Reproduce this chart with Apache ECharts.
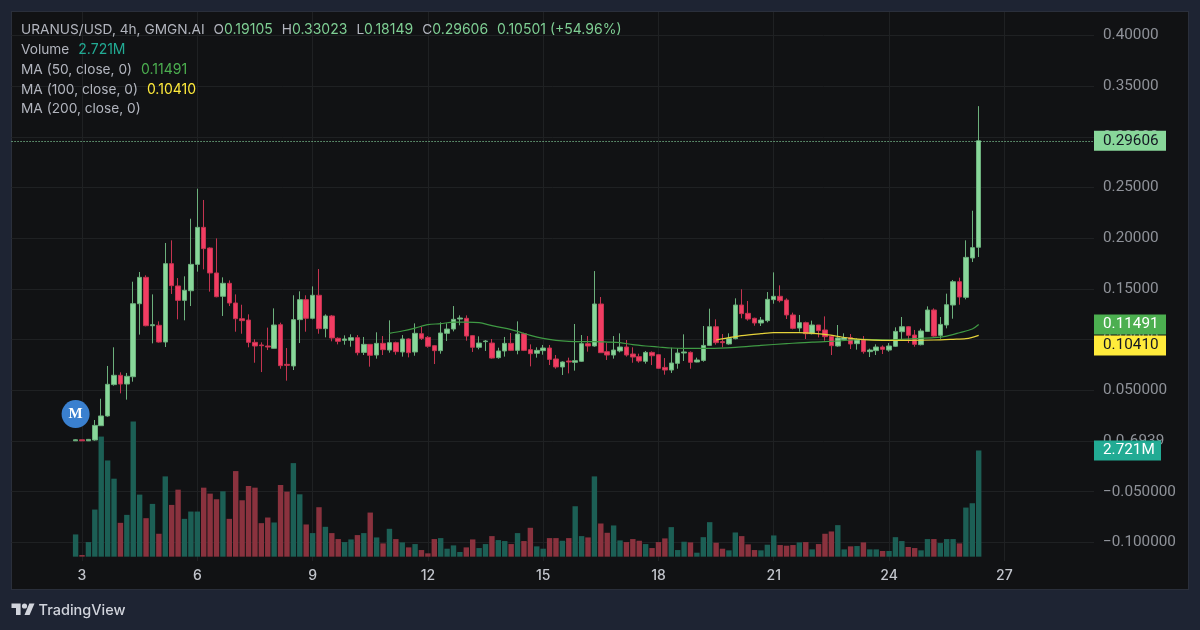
<!DOCTYPE html>
<html>
<head>
<meta charset="utf-8">
<title>URANUS/USD</title>
<script src="https://cdn.jsdelivr.net/npm/echarts@6/dist/echarts.min.js"></script>
<style>
html, body { margin: 0; padding: 0; width: 1200px; height: 630px; overflow: hidden; background: #1e2433; }
#panel { position: absolute; left: 11px; top: 11px; width: 1176px; height: 577px; background: #111214; border: 1px solid #2a2f3b; }
#container { position: absolute; left: 0; top: 0; width: 1200px; height: 630px; }
</style>
</head>
<body>
<div id="panel"></div>
<div id="container"></div>
<script>
// 4h candles
var candleOpen = [
  .0002,.0012,.0002,.0010,.0151,.0247,.0556,.0648,.0562,.0634,.1354,.1614,.1137,.1141,.0976,.1749,.1529,.1387,.1482,.1742,
  .2107,.1903,.1657,.1427,.1555,.1361,.1206,.1193,.0973,.0947,.0937,.0914,.1147,.0756,.0740,.1197,.1394,.1210,.1437,.1108,
  .1233,.1013,.0993,.0993,.1019,.0874,.0953,.0848,.0963,.0897,.0970,.0878,.1006,.0878,.1058,.1022,.0940,.0891,.1062,.1104,
  .1203,.1210,.1039,.0924,.0980,.0966,.0822,.0888,.0963,.0894,.1058,.0901,.0865,.0891,.0917,.0809,.0730,.0789,.0776,.0786,
  .0960,.0937,.1351,.0881,.0848,.0888,.0927,.0858,.0832,.0786,.0874,.0851,.0726,.0700,.0766,.0868,.0874,.0779,.0795,.0943,
  .1127,.0980,.0957,.1009,.1341,.1259,.1210,.1164,.1187,.1394,.1427,.1390,.1243,.1114,.1167,.1058,.1144,.1095,.1032,.0937,
  .0999,.1019,.0960,.0996,.0881,.0891,.0927,.0897,.0934,.1078,.1127,.1045,.0950,.1081,.1292,.1042,.1144,.1341,.1571,.1417,
  .1805,.19105
];
var candleClose = [
  .0012,.0002,.0016,.0154,.0247,.0559,.0648,.0562,.0638,.1354,.1614,.1137,.1147,.0976,.1749,.1532,.1387,.1486,.1742,.2107,
  .1897,.1657,.1423,.1555,.1361,.1206,.1187,.0973,.0937,.0940,.0927,.1144,.0743,.0746,.1197,.1394,.1210,.1437,.1108,.1233,
  .1016,.0983,.1006,.1019,.0871,.0953,.0845,.0963,.0901,.0970,.0881,.1006,.0871,.1062,.1012,.0934,.0891,.1065,.1104,.1200,
  .1213,.1035,.0924,.0966,.0986,.0818,.0888,.0963,.0894,.1055,.0894,.0861,.0894,.0917,.0805,.0730,.0779,.0779,.0792,.0960,
  .0937,.1351,.0871,.0848,.0897,.0927,.0848,.0828,.0789,.0874,.0841,.0717,.0700,.0769,.0868,.0878,.0776,.0799,.0943,.1127,
  .0970,.0970,.1012,.1341,.1256,.1203,.1164,.1193,.1397,.1427,.1384,.1243,.1111,.1167,.1058,.1144,.1088,.1029,.0940,.1016,
  .1019,.0957,.0999,.0881,.0897,.0927,.0904,.0937,.1081,.1127,.1042,.0953,.1085,.1292,.1035,.1150,.1344,.1571,.1420,.1811,
  .1907,.29606
];
var candleLow = [
  .0002,.0002,.0002,.0003,.0148,.0240,.0546,.0470,.0408,.0585,.1049,.1131,.0963,.0970,.0927,.1450,.1200,.1190,.1331,.1670,
  .1693,.1473,.1417,.1233,.1331,.1078,.1058,.0924,.0772,.0680,.0897,.0911,.0713,.0595,.0700,.0966,.1078,.1200,.1058,.1022,
  .0983,.0953,.0950,.0930,.0845,.0848,.0733,.0812,.0848,.0871,.0851,.0832,.0825,.0841,.0996,.0920,.0759,.0861,.0986,.1081,
  .1141,.0989,.0878,.0904,.0888,.0812,.0812,.0832,.0887,.0855,.0887,.0736,.0822,.0851,.0749,.0713,.0651,.0667,.0694,.0779,
  .0881,.0930,.0871,.0799,.0812,.0874,.0832,.0772,.0772,.0763,.0749,.0710,.0654,.0671,.0713,.0789,.0713,.0776,.0782,.0940,
  .0950,.0924,.0950,.1003,.1210,.1187,.1137,.1134,.1170,.1354,.1367,.1203,.1101,.1078,.1006,.1052,.1022,.0989,.0848,.0930,
  .0989,.0907,.0901,.0861,.0828,.0848,.0858,.0881,.0927,.0993,.0966,.0930,.0943,.1075,.1029,.1009,.1111,.1206,.1344,.1397,
  .1765,.18149
];
var candleHigh = [
  .0018,.0012,.0020,.0207,.0417,.0740,.0924,.0677,.0671,.1571,.1667,.1634,.1446,.1180,.1953,.1979,.1607,.1624,.2192,.2488,
  .2377,.1910,.1998,.1614,.1584,.1446,.1344,.1249,.1003,.0973,.1118,.1308,.1167,.0917,.1437,.1476,.1437,.1525,.1696,.1249,
  .1243,.1022,.1042,.1052,.1045,.1026,.0953,.1072,.1035,.1190,.0980,.1045,.1012,.1160,.1127,.1035,.0947,.1170,.1160,.1331,
  .1239,.1239,.1045,.1032,.0996,.1006,.0920,.1026,.1065,.1180,.1068,.0953,.0924,.0947,.0947,.0848,.0786,.0822,.1154,.1045,
  .1035,.1676,.1420,.0966,.1035,.1062,.0996,.0924,.0861,.0888,.0884,.0858,.0818,.0920,.0914,.1052,.0884,.0822,.1134,.1305,
  .1200,.1055,.1062,.1407,.1496,.1381,.1216,.1223,.1469,.1663,.1535,.1407,.1266,.1243,.1177,.1187,.1144,.1229,.1045,.1144,
  .1062,.1055,.1012,.1035,.0911,.0953,.0943,.0966,.1121,.1223,.1134,.1095,.1108,.1328,.1308,.1223,.1453,.1588,.1611,.1979,
  .2271,.33023
];
// volume in millions
var volumeValues = [
  .570,.043,.374,1.207,3.077,2.465,1.998,.867,1.071,3.46,1.59,.986,1.352,.587,2.057,1.326,1.717,.969,1.156,1.156,
  1.768,1.615,1.471,1.675,.969,2.193,1.445,1.811,1.768,.859,1.003,.876,1.836,1.666,2.397,1.598,.825,.604,1.267,.765,
  .604,.451,.374,.442,.553,.604,1.13,.493,.34,.714,.451,.366,.238,.323,.17,.085,.451,.476,.204,.289,
  .119,.238,.442,.221,.323,.527,.425,.40,.323,.604,.40,.74,.264,.204,.476,.476,.408,.476,1.292,.527,
  .493,2.057,.85,.612,.80,.417,.374,.451,.408,.323,.221,.374,.468,.757,.17,.383,.366,.102,.50,.884,
  .357,.204,.162,.62,.527,.315,.17,.162,.306,.544,.298,.281,.298,.366,.374,.187,.323,.587,.646,.808,
  .187,.264,.272,.366,.187,.187,.145,.145,.50,.40,.247,.221,.162,.451,.451,.349,.451,.451,.34,1.258,
  1.369,2.721
];
var ma50Index = [49,51,53,55,57,59,61,63,65,67,69,71,73,75,77,79,81,83,85,87,89,91,93,95,99,103,107,111,115,119,123,127,131,134,136,138,140,141];
var ma50Values = [.1062,.1085,.1114,.1147,.1157,.1173,.1173,.1167,.1137,.1114,.1081,.1042,.1012,.0993,.0983,.0980,.0980,.0976,.0970,.0950,.0937,.0927,.0917,.0914,.0914,.0924,.0943,.0960,.0976,.0986,.1003,.0996,.1009,.1019,.1035,.1068,.1105,.11491];
var ma100Index = [100,102,104,107,109,113,117,119,121,123,126,130,134,137,139,140,141];
var ma100Values = [.0996,.1019,.1039,.1058,.1068,.1068,.1052,.1032,.1012,.0999,.0993,.0993,.0996,.1003,.1009,.1022,.10410];

var dayTicks = [3,6,9,12,15,18,21,24,27];
var priceTicks = [-0.1,-0.05,0,0.05,0.1,0.15,0.2,0.25,0.3,0.35,0.4];
var priceTickLabels = ['\u22120.100000','\u22120.050000','0.0\u20856939','0.050000','0.10000','0.15000','0.20000','0.25000','0.30000','0.35000','0.40000'];

var UP = '#88d79a', DOWN = '#f23d63';
var UP_WICK = '#6cb07c', DOWN_WICK = '#c43450';
var VOL_UP = '#1c5f55', VOL_DOWN = '#8a323e';
var GRAY = '#b2b5be', GREEN_TXT = '#7fcf94';
var FONT = 'Inter', PRICE_FONT = 'Roboto'; // the price scale has even-width digits
var PRICE_SIZE = 15.3;
var HIDDEN_LINE = { color: 'rgba(0,0,0,0)', width: 0 };

var PAD = 10, SLOTS = 170; // empty slots left of the first candle, slots in the whole pane

var categories = [];
for (var i = 0; i < SLOTS; i++) categories.push('');
dayTicks.forEach(function (d, k) { categories[11 + 18 * k] = String(d); });
function isDayTick(idx) { return categories[idx] !== ''; }

var candleData = [], volumeData = [];
for (var p = 0; p < PAD; p++) { candleData.push(['-','-','-','-']); volumeData.push('-'); }
candleOpen.forEach(function (o, k) {
  var up = candleClose[k] >= o;
  candleData.push([o, candleClose[k], candleLow[k], candleHigh[k]]);
  volumeData.push({ value: volumeValues[k], itemStyle: { color: up ? VOL_UP : VOL_DOWN } });
});

function pairs(idx, vals) { return idx.map(function (n, k) { return [n + PAD, vals[k]]; }); }

var sideLabel = function (text, bg, color, width, offset) {
  return {
    show: true, position: 'end', distance: 0, formatter: text, opacity: 1,
    backgroundColor: bg, color: color, fontFamily: PRICE_FONT, fontSize: PRICE_SIZE,
    width: width, height: 12, lineHeight: 12, padding: [4, 0, 4, 9], align: 'left',
    offset: [0, offset || 0]
  };
};

var headerRich = {
  k: { color: GRAY, fontFamily: FONT, fontSize: 13.7 },
  v: { color: GREEN_TXT, fontFamily: FONT, fontSize: 14 },
  t: { color: '#22ab94', fontFamily: FONT, fontSize: 14 },
  g: { color: '#4caf50', fontFamily: FONT, fontSize: 14 },
  y: { color: '#ffeb3b', fontFamily: FONT, fontSize: 14 },
  s: { width: 9, fontSize: 14 }
};
var headerLines = [
  '{k|URANUS/USD, 4h, GMGN.AI}{s| }{k|O}{v|0.19105}{s| }{k|H}{v|0.33023}{s| }{k|L}{v|0.18149}{s| }{k|C}{v|0.29606}{s| }{v|0.10501 (+54.96%)}',
  '{k|Volume}{s| }{t|2.721M}',
  '{k|MA (50, close, 0)}{s| }{g|0.11491}',
  '{k|MA (100, close, 0)}{s| }{y|0.10410}',
  '{k|MA (200, close, 0)}'
];
var headerTops = [23, 43, 63, 83, 102];

var myChart = echarts.init(document.getElementById('container'), null, { renderer: 'canvas' });

var option = {
  animation: false,
  backgroundColor: 'transparent',
  title: headerLines.map(function (line, k) {
    return { text: line, left: 21, top: headerTops[k], padding: 0, textStyle: { rich: headerRich, fontSize: 14, fontWeight: 'normal' } };
  }),
  grid: { left: 11.55, top: 12, width: 1082.45, height: 549, containLabel: false },
  xAxis: {
    type: 'category', data: categories, boundaryGap: false,
    axisLine: { show: false }, axisTick: { show: false },
    axisLabel: {
      interval: function (idx) { return isDayTick(idx); },
      color: '#c2c5cc', fontFamily: FONT, fontSize: 14, fontWeight: 500, margin: 8
    },
    splitLine: { show: true, interval: function (idx) { return isDayTick(idx); }, lineStyle: { color: '#1f2123', width: 1 } }
  },
  yAxis: [
    {
      type: 'value', position: 'right', min: -0.11834, max: 0.42308,
      axisLine: { show: false },
      axisTick: { show: false, customValues: priceTicks },
      axisLabel: {
        customValues: priceTicks, margin: 9, color: '#8f9299', fontFamily: PRICE_FONT, fontSize: PRICE_SIZE,
        formatter: function (v) { return priceTickLabels[priceTicks.indexOf(v)]; }
      },
      splitLine: { show: true, lineStyle: { color: '#1f2123', width: 1 } }
    },
    { type: 'value', show: false, min: -0.111, max: 13.955, splitLine: { show: false } }
  ],
  graphic: [
    { type: 'polygon', shape: { points: [[11.5,603.5],[20.6,603.5],[20.6,615],[16,615],[16,608],[11.5,608]] }, style: { fill: '#d1d4dc' } },
    { type: 'polygon', shape: { points: [[29.3,603.5],[34.5,603.5],[29.6,615],[24.5,615]] }, style: { fill: '#d1d4dc' } },
    { type: 'circle', shape: { cx: 24.5, cy: 606, r: 2.6 }, style: { fill: '#d1d4dc' } },
    { type: 'text', left: 38.5, top: 603, style: { text: 'TradingView', fill: '#d1d4dc', font: '500 14.5px Inter' } }
  ],
  series: [
    {
      type: 'bar', name: 'Volume', yAxisIndex: 1, data: volumeData, barWidth: 5.4, z: 1,
      markLine: {
        silent: true, symbol: 'none', animation: false, precision: 3,
        lineStyle: HIDDEN_LINE,
        data: [{ yAxis: 2.721, label: sideLabel('2.721M', '#22ab94', '#ffffff', 58) }]
      }
    },
    {
      type: 'candlestick', name: 'URANUS/USD', data: candleData, barWidth: 5, z: 2,
      itemStyle: { color: UP, color0: DOWN, borderColor: UP_WICK, borderColor0: DOWN_WICK, borderWidth: 1 },
      markLine: {
        silent: true, symbol: 'none', animation: false, precision: 5,
        lineStyle: { type: [1, 2], color: '#96ecae', width: 1, opacity: 1 },
        data: [{ yAxis: 0.29606, label: sideLabel('0.29606', UP, '#131722', 63) }]
      },
      markPoint: {
        silent: true, animation: false,
        data: [{
          coord: [PAD, 0.0266], symbol: 'circle', symbolSize: 28,
          itemStyle: { color: '#3a80cf' },
          label: { show: true, position: 'inside', formatter: 'M', color: '#ffffff', fontFamily: 'Liberation Serif', fontWeight: 'bold', fontSize: 15 }
        }]
      }
    },
    {
      type: 'line', name: 'MA 50', data: pairs(ma50Index, ma50Values), showSymbol: false, smooth: 0.3, z: 3,
      lineStyle: { color: '#3f9a44', width: 1.2 },
      markLine: {
        silent: true, symbol: 'none', animation: false, precision: 5, lineStyle: HIDDEN_LINE,
        data: [{ yAxis: 0.11491, label: sideLabel('0.11491', '#4caf50', '#ffffff', 63) }]
      }
    },
    {
      type: 'line', name: 'MA 100', data: pairs(ma100Index, ma100Values), showSymbol: false, smooth: 0.3, z: 3,
      lineStyle: { color: '#e5d23a', width: 1.2 },
      markLine: {
        silent: true, symbol: 'none', animation: false, precision: 5, lineStyle: HIDDEN_LINE,
        data: [{ yAxis: 0.10410, label: sideLabel('0.10410', '#ffeb3b', '#131722', 63, 10) }]
      }
    }
  ]
};
myChart.setOption(option);
</script>
</body>
</html>
